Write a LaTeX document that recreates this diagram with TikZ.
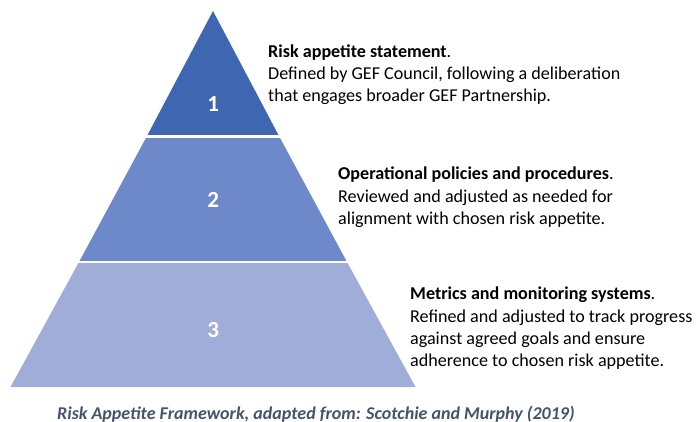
\documentclass[tikz,border=0pt]{standalone}
\usepackage{fontspec}
\setmainfont{Carlito}
\definecolor{tierA}{HTML}{3F66B0}
\definecolor{tierB}{HTML}{6D89C9}
\definecolor{tierC}{HTML}{9FADD8}
\definecolor{capcol}{HTML}{44546A}
\tikzset{
  tier/.style={draw=white, line width=2.5pt},
  num/.style={text=white, inner sep=0pt, font=\fontsize{23}{26}\selectfont\bfseries},
  desc/.style={anchor=base west, align=left, inner sep=0pt, font=\fontsize{18.1}{22.3}\selectfont, text=black},
}
\begin{document}
\begin{tikzpicture}[x=1pt,y=-1pt]
\useasboundingbox (0,0) rectangle (698,422);
\coordinate (apex) at (213,11);
\path[fill=tierC] (79,262) -- (347,262) -- (415.5,387) -- (10.5,387) -- cycle;
\path[fill=tierB] (147,136) -- (279,136) -- (347,262) -- (79,262) -- cycle;
\path[fill=tierA] (apex) -- (279,136) -- (147,136) -- cycle;
\draw[tier] (145,136.5) coordinate (l1) -- (281,136.5) coordinate (r1);
\draw[tier] (77,262) coordinate (l2) -- (349,262) coordinate (r2);
\node[num] (n1) at (213.3,104.2) {1};
\node[num] (n2) at (213.3,200.3) {2};
\node[num] (n3) at (213.3,330.5) {3};
\node[desc] (t1) at (268,101.7) {\textbf{Risk appetite statement}.\\Defined by GEF Council, following a deliberation\\that engages broader GEF Partnership.};
\node[desc] (t2) at (338,224.3) {\textbf{Operational policies and procedures}.\\Reviewed and adjusted as needed for\\alignment with chosen risk appetite.};
\node[desc] (t3) at (410,366.7) {\textbf{Metrics and monitoring systems}.\\Refined and adjusted to track progress\\against agreed goals and ensure\\adherence to chosen risk appetite.};
\node[anchor=base west, inner sep=0pt, text=capcol, font=\fontsize{18}{20}\selectfont\bfseries\itshape] (cap) at (57,419) {Risk Appetite Framework, adapted from: Scotchie and Murphy (2019)};
\end{tikzpicture}
\end{document}
